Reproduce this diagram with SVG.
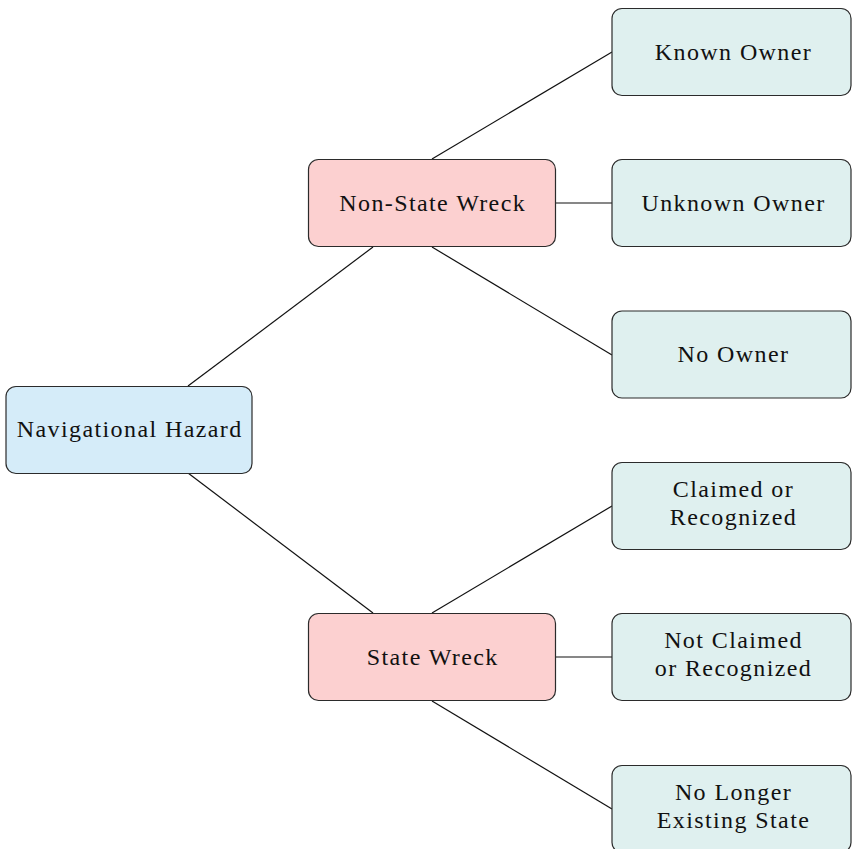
<svg xmlns="http://www.w3.org/2000/svg" width="852" height="849" viewBox="0 0 852 849">
<style>
.box{stroke:#2b2b2b;stroke-width:1.2}
.root{fill:#d5ecf9}
.mid{fill:#fcd0d0}
.leaf{fill:#dff0ef}
text{font-family:"Liberation Serif","DejaVu Serif",serif;font-size:24px;letter-spacing:1.4px;fill:#111;text-anchor:middle}
.edge{stroke:#111;stroke-width:1.2;fill:none}
</style>
<rect width="852" height="849" fill="#fff"/>
<g id="connectors">
<line class="edge" x1="188" y1="386" x2="373" y2="247"/>
<line class="edge" x1="188" y1="473" x2="373" y2="613"/>
<line class="edge" x1="432" y1="159" x2="612" y2="52"/>
<line class="edge" x1="556" y1="203" x2="612" y2="203"/>
<line class="edge" x1="432" y1="247" x2="612" y2="355"/>
<line class="edge" x1="432" y1="613" x2="612" y2="506"/>
<line class="edge" x1="556" y1="657" x2="612" y2="657"/>
<line class="edge" x1="432" y1="701" x2="612" y2="809"/>
</g>
<g id="navigational-hazard"><rect class="box root" x="6" y="386.5" width="246" height="87" rx="10"/><text x="129.7" y="437">Navigational Hazard</text></g>
<g id="non-state-wreck"><rect class="box mid" x="308.5" y="159.5" width="247" height="87" rx="10"/><text x="432.7" y="211">Non-State Wreck</text></g>
<g id="state-wreck"><rect class="box mid" x="308.5" y="613.5" width="247" height="87" rx="10"/><text x="432.7" y="665">State Wreck</text></g>
<g id="known-owner"><rect class="box leaf" x="612" y="8.5" width="239" height="87" rx="10"/><text x="733.5" y="60">Known Owner</text></g>
<g id="unknown-owner"><rect class="box leaf" x="612" y="159.5" width="239" height="87" rx="10"/><text x="733.5" y="211">Unknown Owner</text></g>
<g id="no-owner"><rect class="box leaf" x="612" y="311" width="239" height="87" rx="10"/><text x="733.5" y="362">No Owner</text></g>
<g id="claimed"><rect class="box leaf" x="612" y="462.5" width="239" height="87" rx="10"/><text x="733.5" y="497">Claimed or</text><text x="733.5" y="525">Recognized</text></g>
<g id="not-claimed"><rect class="box leaf" x="612" y="613.5" width="239" height="87" rx="10"/><text x="733.5" y="648">Not Claimed</text><text x="733.5" y="676">or Recognized</text></g>
<g id="no-longer"><rect class="box leaf" x="612" y="765.5" width="239" height="87" rx="10"/><text x="733.5" y="800">No Longer</text><text x="733.5" y="828">Existing State</text></g>
</svg>
